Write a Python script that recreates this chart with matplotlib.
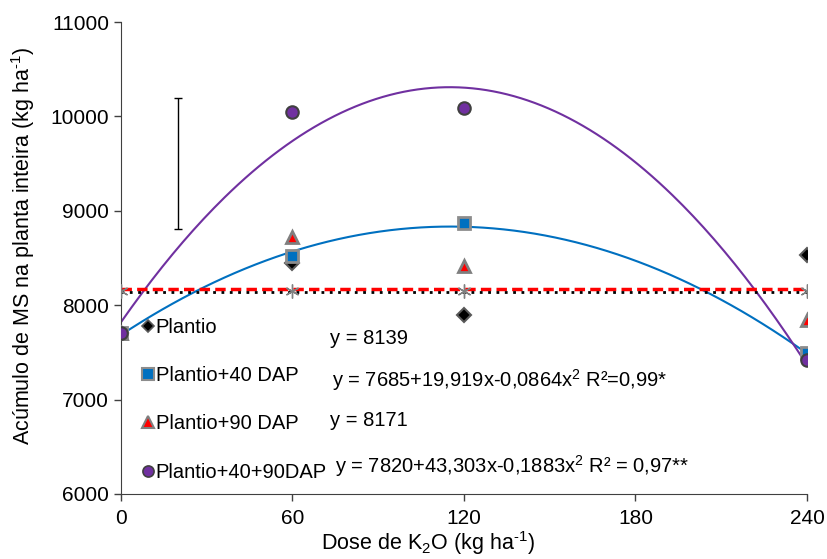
import numpy as np
import matplotlib.pyplot as plt
from matplotlib.lines import Line2D

plt.rcParams['font.family'] = ['Liberation Sans', 'DejaVu Sans']
plt.rcParams['mathtext.fontset'] = 'custom'
plt.rcParams['mathtext.rm'] = 'Liberation Sans'
plt.rcParams['mathtext.it'] = 'Liberation Sans:italic'

# doses de K2O
doses = [0, 60, 120, 240]

# acumulo de MS (kg/ha) por epoca de aplicacao
plantio = [7705, 8447, 7896, 8532]
plantio_40 = [7705, 8521, 8871, 7494]
plantio_90 = [7705, 8722, 8415, 7843]
plantio_40_90 = [7710, 10047, 10089, 7420]

# linhas de media (sem ajuste)
media_plantio = 8139
media_90 = 8171
asterisco = [8155, 8155, 8155, 8155]

# coeficientes das regressoes quadraticas
coef_40 = [7685, 19.919, -0.0864]
coef_40_90 = [7820, 43.303, -0.1883]

# barra de DMS
dms_x = 20
dms_y = 9500
dms_err = 690

labels = ['Plantio', 'Plantio+40 DAP', 'Plantio+90 DAP', 'Plantio+40+90DAP']
equacoes = ['y = 8139',
            'y = 7685+19,919x-0,0864x$^{2}$ R²=0,99*',
            'y = 8171',
            'y = 7820+43,303x-0,1883x$^{2}$ R² = 0,97**']

fig = plt.figure(figsize=(8.27, 5.59), dpi=100)
ax = fig.add_axes([0.1463, 0.1163, 0.8295, 0.8443])

xx = np.linspace(0, 240, 200)
ax.plot(xx, coef_40[0] + coef_40[1]*xx + coef_40[2]*xx**2, color='#0070C0', lw=1.5, zorder=2)
ax.plot(xx, coef_40_90[0] + coef_40_90[1]*xx + coef_40_90[2]*xx**2, color='#7030A0', lw=1.5, zorder=2)

ax.plot([0, 240], [media_90, media_90], color='#FF0000', ls=(0, (3, 1.5)), lw=2.5, zorder=2)
ax.plot([0, 240], [media_plantio, media_plantio], color='black', ls=(0, (1, 2)), lw=2, zorder=3)
ax.plot(doses, asterisco, ls='none', marker=(6, 2, 0), ms=10, mec='#808080', mew=1, zorder=3)

ax.errorbar([dms_x], [dms_y], yerr=[dms_err], fmt='none', ecolor='black', elinewidth=1, capsize=3, zorder=3)

edge = '#595959'
ax.plot(doses, plantio, ls='none', marker='D', ms=7, mfc='black', mec=edge, mew=1.5, zorder=4)
ax.plot(doses, plantio_40, ls='none', marker='s', ms=9, mfc='#0070C0', mec='#8c8c8c', mew=2, zorder=4)
ax.plot(doses, plantio_90, ls='none', marker='^', ms=9, mfc='#FF0000', mec='#7f7f7f', mew=2, zorder=4)
ax.plot(doses, plantio_40_90, ls='none', marker='o', ms=9, mfc='#7030A0', mec='#404040', mew=1.5, zorder=5)

handles = [
    Line2D([], [], ls='none', marker='D', ms=6, mfc='black', mec=edge, mew=1.2),
    Line2D([], [], ls='none', marker='s', ms=8, mfc='#0070C0', mec='#8c8c8c', mew=1.5),
    Line2D([], [], ls='none', marker='^', ms=8, mfc='#FF0000', mec='#7f7f7f', mew=1.5),
    Line2D([], [], ls='none', marker='o', ms=8, mfc='#7030A0', mec='#404040', mew=1.2),
]
ax.legend(handles, labels, loc='upper left', bbox_to_anchor=(0.159, 0.449),
          bbox_transform=fig.transFigure, frameon=False, fontsize=14.5,
          handlelength=0.6, handletextpad=0.1, labelspacing=1.45, borderpad=0)

eq_pos = [(330, 338), (332, 380), (330, 420), (335, 466)]
for (px, py), txt in zip(eq_pos, equacoes):
    fig.text(px / 827, 1 - py / 559, txt, fontsize=14.5, va='center', ha='left')

ax.set_xlim(0, 240)
ax.set_ylim(6000, 11000)
ax.set_xticks([0, 60, 120, 180, 240])
ax.set_yticks([6000, 7000, 8000, 9000, 10000, 11000])
ax.tick_params(labelsize=15, direction='out', length=5, width=1, color='#404040')
ax.tick_params(axis='x', pad=6)
ax.spines['top'].set_visible(False)
ax.spines['right'].set_visible(False)
ax.spines['left'].set_color('#404040')
ax.spines['bottom'].set_color('#404040')

fig.text(428 / 827, 1 - 543 / 559, 'Dose de K$_{2}$O (kg ha$^{\\text{-}1}$)',
         fontsize=15.5, ha='center', va='center')
fig.text(23 / 827, 1 - 246 / 559, 'Acúmulo de MS na planta inteira (kg ha$^{\\text{-}1}$)',
         fontsize=15.5, ha='center', va='center', rotation=90)

fig.savefig('out.png', dpi=100)
